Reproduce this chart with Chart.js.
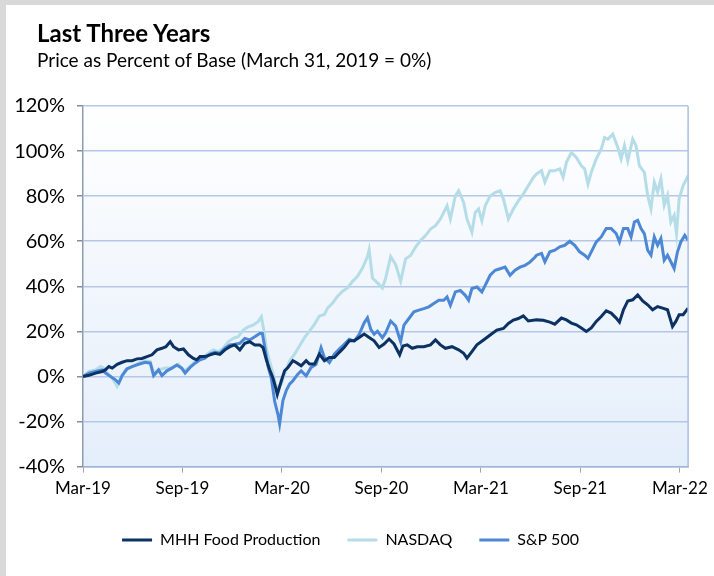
<!DOCTYPE html>
<html>
<head>
<meta charset="utf-8">
<script src="https://cdn.jsdelivr.net/npm/chart.js@4.4.1/dist/chart.umd.min.js"></script>
<style>
  html, body { margin: 0; padding: 0; background: #fff; }
  body { width: 714px; height: 576px; position: relative; overflow: hidden; font-family: Lato, "Open Sans", sans-serif; }
  .frameTop { position: absolute; left: 0; top: 0; width: 714px; height: 5px; background: #d9d9d9; }
  .frameLeft { position: absolute; left: 0; top: 0; width: 6px; height: 576px; background: #d9d9d9; }
  #title { position: absolute; left: 37px; top: 18px; font-size: 24px; font-weight: bold; color: #000; }
  #subtitle { position: absolute; left: 37px; top: 48px; font-size: 19px; color: #000; }
  #wrap { position: absolute; left: 6px; top: 5px; width: 708px; height: 571px; }
</style>
</head>
<body>
<div class="frameTop"></div>
<div class="frameLeft"></div>
<div id="wrap"><canvas id="chart"></canvas></div>
<div id="title">Last Three Years</div>
<div id="subtitle">Price as Percent of Base (March 31, 2019 = 0%)</div>
<script>
// x values are months since Mar 31, 2019
const xTickLabels = ['Mar-19', 'Sep-19', 'Mar-20', 'Sep-20', 'Mar-21', 'Sep-21', 'Mar-22'];

const mhhMonths = [0, 0.36, 0.76, 1.16, 1.36, 1.56, 1.76, 2.06, 2.36, 2.66, 2.96, 3.26, 3.56, 3.86, 4.16, 4.46, 4.76, 5.0, 5.26, 5.46,
  5.76, 6.06, 6.36, 6.66, 6.86, 7.06, 7.36, 7.66, 7.96, 8.26, 8.56, 8.86, 9.16, 9.46, 9.76, 10.06, 10.36, 10.66, 10.86, 11.06,
  11.26, 11.46, 11.62, 11.72, 11.96, 12.16, 12.36, 12.66, 12.86, 13.16, 13.46, 13.66, 13.96, 14.26, 14.56, 14.86, 15.16, 15.46, 15.76, 16.06,
  16.36, 16.66, 16.96, 17.26, 17.56, 17.86, 18.16, 18.46, 18.76, 19.1, 19.3, 19.56, 19.86, 20.16, 20.56, 20.96, 21.26, 21.56, 21.86, 22.26,
  22.66, 22.96, 23.16, 23.46, 23.76, 24.16, 24.56, 24.96, 25.36, 25.66, 25.96, 26.26, 26.56, 26.86, 27.36, 27.76, 28.16, 28.46, 28.86, 29.16,
  29.46, 29.76, 30.06, 30.36, 30.66, 30.96, 31.26, 31.56, 31.86, 32.16, 32.36, 32.6, 32.86, 33.16, 33.46, 33.76, 34.06, 34.36, 34.66, 34.96,
  35.26, 35.56, 35.76, 35.96, 36.2, 36.5];
const mhhValues = [0, 0.5, 1.5, 2.2, 3, 4.4, 3.7, 5.4, 6.3, 7, 7, 7.8, 8, 8.8, 9.6, 11.8, 12.5, 13.2, 15.4, 13.2,
  11.8, 12.2, 9.6, 8, 7.4, 8.8, 8.8, 9.6, 10.3, 9.8, 11.8, 13.2, 14, 11.8, 14.7, 15.4, 14, 14, 12.8, 7.4,
  3, -0.7, -5, -8, -2, 2.5, 4, 7, 6.2, 4.7, 7, 5.5, 5.5, 9.9, 7, 8.4, 8.4, 10.7, 12.9, 15.8,
  15.8, 17.3, 18.8, 17.3, 15.8, 12.9, 14.4, 16.6, 14.4, 9.6, 13.5, 14, 12.5, 13.2, 13.2, 14, 16.2, 14, 12.5, 13.2,
  11.8, 10.3, 8.1, 11, 14, 16.2, 18.4, 20.6, 21.3, 23.5, 25, 25.7, 26.9, 24.6, 25.1, 24.9, 24.1, 23.2, 25.9, 25.1,
  23.7, 22.9, 21.5, 20, 21.5, 24.4, 26.6, 29.1, 28.1, 25.9, 24.1, 29.6, 33.5, 34, 36.2, 33.5, 31.8, 29.6, 31, 30.3,
  29.6, 22.2, 24.4, 27.4, 27.4, 30.3];

const nasdaqMonths = [0, 0.36, 0.76, 1.06, 1.26, 1.46, 1.76, 2.06, 2.26, 2.56, 2.96, 3.36, 3.76, 4.06, 4.26, 4.56, 4.96, 5.36, 5.76, 6.06,
  6.36, 6.66, 6.96, 7.26, 7.56, 7.86, 8.16, 8.46, 8.76, 9.06, 9.36, 9.66, 9.96, 10.26, 10.56, 10.76, 10.92, 11.06, 11.26, 11.46,
  11.66, 11.96, 12.16, 12.46, 12.76, 13.06, 13.36, 13.66, 13.96, 14.26, 14.56, 14.76, 15.06, 15.36, 15.66, 15.96, 16.26, 16.56, 16.86, 17.16,
  17.26, 17.46, 17.76, 18.06, 18.26, 18.56, 18.86, 19.16, 19.46, 19.76, 20.06, 20.36, 20.66, 20.96, 21.26, 21.56, 21.76, 21.96, 22.16, 22.46,
  22.66, 22.96, 23.16, 23.46, 23.66, 23.86, 24.06, 24.26, 24.56, 24.86, 25.16, 25.36, 25.66, 25.96, 26.26, 26.56, 26.86, 27.16, 27.36, 27.66,
  27.86, 28.16, 28.46, 28.76, 28.96, 29.16, 29.46, 29.76, 30.06, 30.26, 30.46, 30.66, 30.96, 31.26, 31.46, 31.66, 31.96, 32.26, 32.46, 32.66,
  32.86, 33.16, 33.36, 33.56, 33.86, 34.06, 34.26, 34.46, 34.66, 34.86, 35.06, 35.26, 35.46, 35.66, 35.8, 35.96, 36.2, 36.5];
const nasdaqValues = [0, 2.2, 2.9, 4.4, 3.7, 1.5, -0.7, -4.4, -1.5, 2.9, 4.4, 5.9, 6.9, 6.6, 1.5, 2.9, 3.7, 3.7, 5.4, 2.5,
  3.7, 5.9, 8.1, 8.8, 10.3, 11.8, 11, 12.5, 15.4, 16.9, 17.6, 20.6, 22, 22.8, 24.3, 26.5, 19.9, 12.5, 6.6, 1.5,
  -5, -3.4, 1, 6.9, 9.9, 13.5, 17.2, 20.1, 23.1, 26.8, 27.5, 30.4, 32.6, 35.6, 37.8, 39.3, 42.2, 44.4, 48.1, 53.2,
  56.2, 43.7, 41.5, 39.3, 43.7, 53.2, 49.6, 42.2, 52.2, 53.7, 57.4, 60.3, 62.5, 65.4, 66.9, 69.9, 72.8, 75.7, 69.9, 80.1,
  82.4, 77.2, 69.9, 64, 72.8, 74.3, 69.1, 75.7, 80.1, 81.6, 82.4, 78.7, 69.9, 74.3, 77.9, 80.9, 84.6, 88.2, 89.9, 91.3,
  86.2, 91.3, 91.3, 92.1, 88.4, 95, 99.4, 97.2, 93.5, 92.1, 85.4, 90.6, 96.5, 100.9, 106, 105.3, 107.5, 101.6, 96.5, 102.4,
  95.7, 105.3, 102.4, 93.5, 90.6, 80.3, 74.4, 86.2, 81.8, 87.6, 75.9, 80.3, 68.5, 71.5, 63.4, 78.8, 84.7, 89.1];

const spMonths = [0, 0.36, 0.76, 1.16, 1.36, 1.66, 1.96, 2.16, 2.36, 2.66, 2.96, 3.36, 3.76, 4.06, 4.26, 4.56, 4.76, 5.06, 5.36, 5.66,
  5.96, 6.16, 6.46, 6.76, 7.06, 7.36, 7.66, 7.96, 8.26, 8.56, 8.86, 9.16, 9.46, 9.76, 10.06, 10.36, 10.66, 10.82, 10.96, 11.16,
  11.36, 11.56, 11.76, 11.86, 12.06, 12.26, 12.46, 12.66, 12.96, 13.16, 13.46, 13.76, 14.06, 14.36, 14.56, 14.86, 15.16, 15.46, 15.76, 16.06,
  16.36, 16.66, 16.96, 17.16, 17.36, 17.56, 17.76, 18.06, 18.26, 18.56, 18.86, 19.16, 19.36, 19.66, 19.96, 20.26, 20.56, 20.86, 21.16, 21.46,
  21.76, 21.96, 22.16, 22.46, 22.76, 23.06, 23.26, 23.46, 23.76, 24.06, 24.26, 24.56, 24.86, 25.16, 25.46, 25.76, 26.06, 26.36, 26.66, 26.96,
  27.26, 27.36, 27.66, 27.86, 28.16, 28.46, 28.76, 29.06, 29.36, 29.66, 29.96, 30.26, 30.46, 30.66, 30.96, 31.26, 31.56, 31.86, 32.16, 32.36,
  32.6, 32.86, 33.06, 33.26, 33.46, 33.66, 33.86, 34.06, 34.26, 34.46, 34.66, 34.86, 35.06, 35.26, 35.46, 35.66, 35.86, 36.06, 36.3, 36.5];
const spValues = [0, 1.5, 2.2, 2.9, 1.5, 0, -1.5, -2.9, 0.4, 3.4, 4.4, 5.4, 6.3, 5.9, 0.4, 2.9, 0.4, 2.5, 3.7, 5.1,
  3.7, 1.5, 4, 5.9, 7.4, 8.1, 9.9, 10.7, 10.3, 12.5, 14, 14.3, 14.7, 16.9, 16.2, 17.6, 19.1, 19.1, 13.2, 4.4,
  -0.7, -11, -16.9, -21, -10.7, -6.3, -3.4, -1.9, 1, 2.5, 0.3, 4, 5.4, 12.8, 8.4, 6.2, 9.9, 12.1, 14.3, 16.5,
  15.7, 18.7, 23.8, 26, 20.9, 18.7, 20.1, 17.2, 19.4, 24.6, 22.4, 15.4, 22.8, 25.7, 28.7, 29.4, 30.1, 30.9, 32.4, 33.8,
  33.8, 35.3, 31.6, 37.5, 38.2, 36, 33.8, 39, 39.7, 37.5, 40.4, 44.9, 47.1, 47.8, 48.5, 44.9, 47.1, 48.5, 49.3, 50.7,
  52.9, 53.8, 54.6, 50.9, 55.3, 56, 57.5, 58.2, 60, 58.2, 55.3, 53.8, 52.4, 55.3, 59.7, 61.9, 65.6, 65.6, 63.4, 59.7,
  65.6, 65.6, 61.9, 68.5, 69.3, 65.6, 63.4, 56, 53.8, 61.9, 58.2, 61.2, 51.6, 53.8, 50.9, 47.9, 55.3, 59.7, 62.6, 60.4];

const toPoints = (xs, ys) => xs.map((x, i) => ({ x: x, y: ys[i] }));

const plotBackground = {
  id: 'plotBackground',
  beforeDraw(chart) {
    const { ctx, chartArea: a } = chart;
    const g = ctx.createLinearGradient(0, a.top, 0, a.bottom);
    g.addColorStop(0, '#ffffff');
    g.addColorStop(1, '#e4eefa');
    ctx.save();
    ctx.fillStyle = g;
    ctx.fillRect(a.left, a.top, a.right - a.left, a.bottom - a.top);
    ctx.restore();
  },
  afterDatasetsDraw(chart) {
    const { ctx, chartArea: a } = chart;
    ctx.save();
    ctx.strokeStyle = '#a9bfe3';
    ctx.lineWidth = 1.5;
    ctx.beginPath();
    ctx.moveTo(a.right, a.top);
    ctx.lineTo(a.right, a.bottom);
    ctx.stroke();
    ctx.restore();
  }
};

Chart.defaults.font.family = 'Lato, "Open Sans", sans-serif';
Chart.defaults.color = '#000';

new Chart(document.getElementById('chart'), {
  type: 'line',
  data: {
    datasets: [
      {
        label: 'MHH Food Production',
        data: toPoints(mhhMonths, mhhValues),
        borderColor: '#0b3262',
        backgroundColor: '#0b3262',
        borderWidth: 3,
        order: 1
      },
      {
        label: 'NASDAQ',
        data: toPoints(nasdaqMonths, nasdaqValues),
        borderColor: '#b5dde8',
        backgroundColor: '#b5dde8',
        borderWidth: 3,
        order: 3
      },
      {
        label: 'S&P 500',
        data: toPoints(spMonths, spValues),
        borderColor: '#4d88d6',
        backgroundColor: '#4d88d6',
        borderWidth: 3,
        order: 2
      }
    ]
  },
  options: {
    responsive: true,
    maintainAspectRatio: false,
    animation: false,
    elements: { point: { radius: 0 }, line: { tension: 0 } },
    layout: { padding: { top: 101, right: 19, left: 0, bottom: 18 } },
    scales: {
      x: {
        type: 'linear',
        min: 0,
        max: 36.5,
        grid: { drawOnChartArea: false, tickLength: 6, tickColor: '#a6a6a6' },
        border: { color: '#9fb3d6', width: 1.5 },
        ticks: {
          stepSize: 6,
          includeBounds: false,
          padding: 6,
          maxRotation: 0,
          font: { size: 17 },
          callback: (v) => (v % 6 === 0 ? xTickLabels[v / 6] : '')
        }
      },
      y: {
        min: -40,
        max: 120,
        grid: { color: '#b4c7e7', lineWidth: 1.5, tickLength: 6, tickColor: '#8c8c8c' },
        border: { color: '#8c9cb4', width: 1.5 },
        ticks: {
          stepSize: 20,
          padding: 12,
          font: { size: 20 },
          callback: (v) => v + '%'
        },
        afterFit: (scale) => { scale.width = 77; }
      }
    },
    plugins: {
      tooltip: { enabled: false },
      legend: {
        position: 'bottom',
        labels: {
          usePointStyle: true,
          pointStyle: 'line',
          pointStyleWidth: 30,
          padding: 27,
          font: { size: 16 },
          sort: (a, b) => a.datasetIndex - b.datasetIndex
        }
      }
    }
  },
  plugins: [plotBackground]
});
</script>
</body>
</html>
